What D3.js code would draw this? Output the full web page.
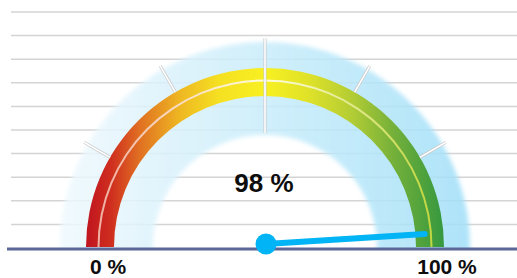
<!DOCTYPE html>
<html>
<head>
<meta charset="utf-8">
<script src="https://cdn.jsdelivr.net/npm/d3@7"></script>
<style>
  html, body { margin: 0; padding: 0; background: #fff; }
  svg { display: block; }
  text { font-family: "Liberation Sans", Arial, sans-serif; font-weight: bold; fill: #0d0d0d; }
</style>
</head>
<body>
<script>
// ---- data ----
const gaugeMin = 0;
const gaugeMax = 100;
const gaugeValue = [98];
const valueLabel = ["98 %"];
const endLabels = ["0 %", "100 %"];
const endValues = [0, 100];
const majorTick = [50];
const minorTicks = [16.7, 33.3, 66.7, 83.3];
const gridValues = [1, 2, 3, 4, 5, 6, 7, 8, 9, 10];
const colorStops = [
  { o: 0.00, c: "#c0141f" },
  { o: 0.07, c: "#cf2e1f" },
  { o: 0.15, c: "#e07022" },
  { o: 0.26, c: "#eeb622" },
  { o: 0.37, c: "#f5e022" },
  { o: 0.50, c: "#f8f022" },
  { o: 0.62, c: "#e0e228" },
  { o: 0.74, c: "#b4cd34" },
  { o: 0.86, c: "#74b03a" },
  { o: 1.00, c: "#35983f" }
];

// ---- layout ----
const W = 517, H = 278;
const cx = 265, cy = 247;
const svg = d3.select("body").append("svg").attr("width", W).attr("height", H);
const defs = svg.append("defs");

const yGrid = d3.scaleLinear().domain([0, 10]).range([248, 12]);
const ang = d3.scaleLinear().domain([gaugeMin, gaugeMax]).range([-Math.PI / 2, Math.PI / 2]);

// gradients (coordinates relative to gauge centre)
const gBlue = defs.append("linearGradient").attr("id", "gBlue")
  .attr("gradientUnits", "userSpaceOnUse").attr("x1", -205).attr("x2", 205).attr("y1", 0).attr("y2", 0);
gBlue.append("stop").attr("offset", 0).attr("stop-color", "#eff9fe");
gBlue.append("stop").attr("offset", 0.45).attr("stop-color", "#cdeefb");
gBlue.append("stop").attr("offset", 1).attr("stop-color", "#a1dff8");

const gArc = defs.append("linearGradient").attr("id", "gArc")
  .attr("gradientUnits", "userSpaceOnUse").attr("x1", -179).attr("x2", 179).attr("y1", 0).attr("y2", 0);
colorStops.forEach(s => gArc.append("stop").attr("offset", s.o).attr("stop-color", s.c));

const gLine = defs.append("linearGradient").attr("id", "gLine")
  .attr("gradientUnits", "userSpaceOnUse").attr("x1", -167).attr("x2", 167).attr("y1", 0).attr("y2", 0);
gLine.append("stop").attr("offset", 0).attr("stop-color", "#f6c8b8");
gLine.append("stop").attr("offset", 0.5).attr("stop-color", "#ffffff");
gLine.append("stop").attr("offset", 1).attr("stop-color", "#d6e040");

const blur = defs.append("filter").attr("id", "blur").attr("x", "-10%").attr("y", "-10%").attr("width", "120%").attr("height", "120%");
blur.append("feGaussianBlur").attr("stdDeviation", 2.2);

defs.append("clipPath").attr("id", "clipTop").append("rect").attr("x", 0).attr("y", 0).attr("width", W).attr("height", 248);

// gridlines
svg.append("g").selectAll("line").data(gridValues).join("line")
  .attr("x1", 11).attr("x2", W)
  .attr("y1", d => yGrid(d)).attr("y2", d => yGrid(d))
  .attr("stroke", "#d4d4d4").attr("stroke-width", 1.5);

const clipG = svg.append("g").attr("clip-path", "url(#clipTop)")
  .append("g").attr("transform", `translate(${cx},${cy})`);

// blue halo band
clipG.append("path")
  .attr("d", d3.arc().innerRadius(112).outerRadius(205).startAngle(ang(gaugeMin) - 0.06).endAngle(ang(gaugeMax) + 0.06)())
  .attr("fill", "url(#gBlue)").attr("opacity", 0.85).attr("filter", "url(#blur)");

// colored arc
clipG.append("path")
  .attr("d", d3.arc().innerRadius(151).outerRadius(179).startAngle(ang(gaugeMin)).endAngle(ang(gaugeMax))())
  .attr("fill", "url(#gArc)");

// inner light line
clipG.append("path")
  .attr("d", d3.arc().innerRadius(165.5).outerRadius(167.5).startAngle(ang(gaugeMin)).endAngle(ang(gaugeMax))())
  .attr("fill", "url(#gLine)").attr("opacity", 0.85);

// ticks
function tickLine(v, r0, r1) {
  const a = ang(v);
  return { x1: r0 * Math.sin(a), y1: -r0 * Math.cos(a), x2: r1 * Math.sin(a), y2: -r1 * Math.cos(a) };
}
const tickData = minorTicks.map(v => tickLine(v, 179, 209)).concat(majorTick.map(v => tickLine(v, 114, 209)));
const tg = clipG.append("g");
tg.selectAll("line.o").data(tickData).join("line").attr("class", "o")
  .attr("x1", d => d.x1).attr("y1", d => d.y1).attr("x2", d => d.x2).attr("y2", d => d.y2)
  .attr("stroke", "#c8c8c8").attr("stroke-width", 3);
tg.selectAll("line.i").data(tickData).join("line").attr("class", "i")
  .attr("x1", d => d.x1).attr("y1", d => d.y1).attr("x2", d => d.x2).attr("y2", d => d.y2)
  .attr("stroke", "#ffffff").attr("stroke-width", 1.6);

// baseline
svg.append("line").attr("x1", 7).attr("x2", W).attr("y1", 249).attr("y2", 249)
  .attr("stroke", "#5b6797").attr("stroke-width", 3);

// needle
const pivot = { x: cx + 1, y: 244 };
const needleLen = 159;
gaugeValue.forEach(v => {
  const a = ang(v);
  svg.append("line")
    .attr("x1", pivot.x).attr("y1", pivot.y)
    .attr("x2", pivot.x + needleLen * Math.sin(a)).attr("y2", pivot.y - needleLen * Math.cos(a))
    .attr("stroke", "#00b4f5").attr("stroke-width", 6).attr("stroke-linecap", "round");
});
svg.append("circle").attr("cx", pivot.x).attr("cy", pivot.y).attr("r", 10.5).attr("fill", "#00b4f5");

// value label
svg.append("text").attr("x", 264).attr("y", 192).attr("text-anchor", "middle")
  .style("font-size", "26px").text(valueLabel[0]);

// end labels
const endX = d3.scaleLinear().domain([gaugeMin, gaugeMax]).range([108, 447]);
svg.selectAll("text.end").data(endLabels).join("text").attr("class", "end")
  .attr("x", (d, i) => endX(endValues[i])).attr("y", 273.5).attr("text-anchor", "middle")
  .style("font-size", "21px").text(d => d);
</script>
</body>
</html>
